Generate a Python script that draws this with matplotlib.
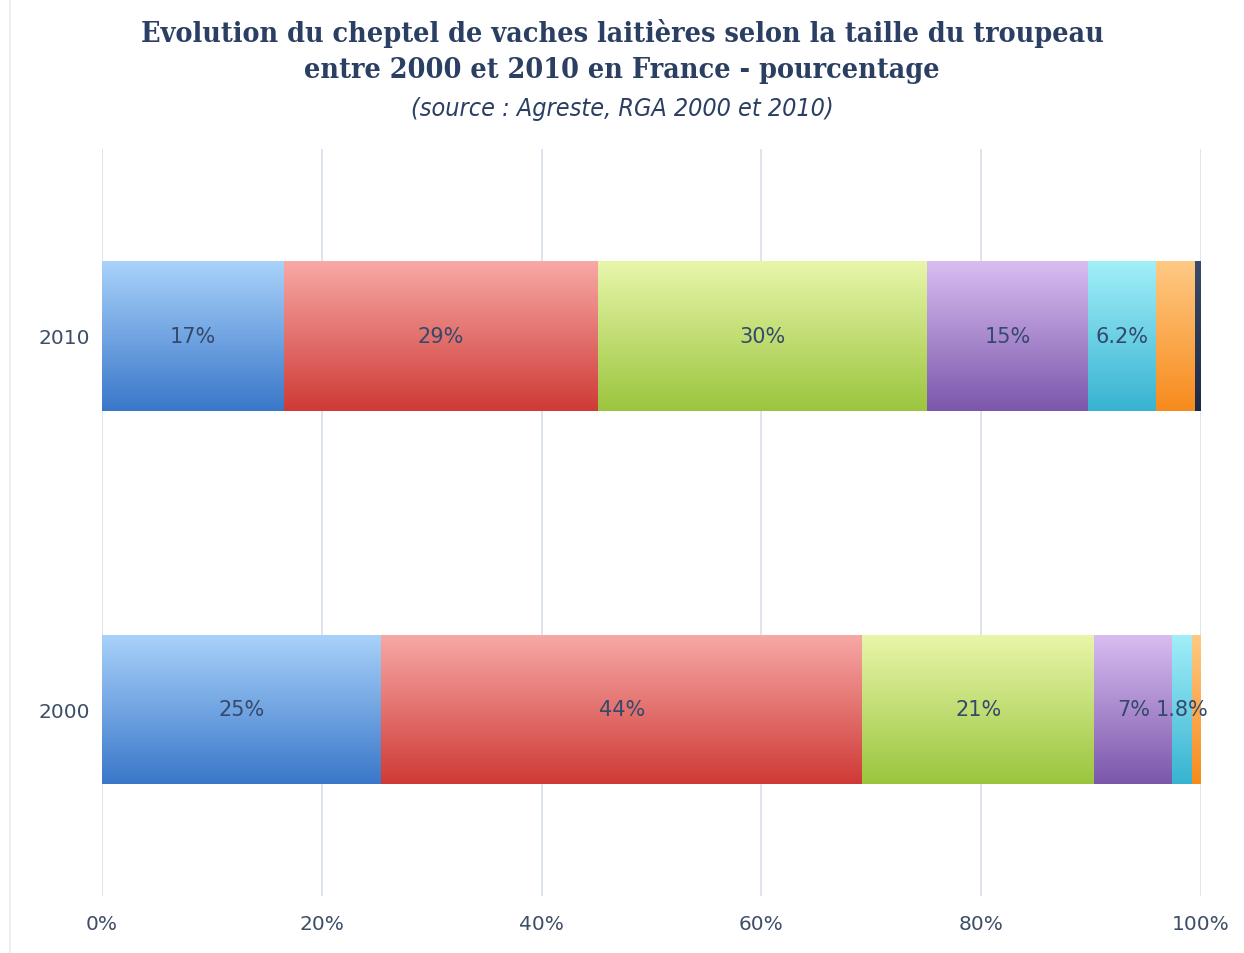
import matplotlib.pyplot as plt
import matplotlib.colors as mcolors
from matplotlib.lines import Line2D
import numpy as np

# données (pourcentages)
annees = ['2000', '2010']
parts_2000 = [25.4, 43.8, 21.1, 7.1, 1.8, 0.8, 0.0]
parts_2010 = [16.6, 28.5, 30.0, 14.6, 6.2, 3.6, 0.5]
etiquettes_2000 = ['25%', '44%', '21%', '7%', '1.8%', '', '']
etiquettes_2010 = ['17%', '29%', '30%', '15%', '6.2%', '', '']

# dégradés (haut clair -> bas foncé)
couleurs_haut = ['#a9d2fa', '#f7a9a6', '#e8f6aa', '#d9bdf1', '#a2eff9', '#ffc984', '#3a4a68']
couleurs_bas = ['#3a77c9', '#cf3a36', '#9bc53e', '#7b57ab', '#37b3d1', '#f78b1c', '#1c2a46']

fig = plt.figure(figsize=(12.44, 9.54), dpi=100)
ax = fig.add_axes([0.082, 0.0597, 0.8834, 0.783])

valeurs = np.array([parts_2000, parts_2010])
etiquettes = [etiquettes_2000, etiquettes_2010]
y = np.arange(len(annees))
gauche = np.zeros(len(annees))
hauteur = 0.4

for i in range(valeurs.shape[1]):
    barres = ax.barh(y, valeurs[:, i], left=gauche, height=hauteur,
                     color='none', edgecolor='none', zorder=2)
    cmap = mcolors.LinearSegmentedColormap.from_list(
        'g%d' % i, [couleurs_bas[i], couleurs_haut[i]])
    grad = np.linspace(0, 1, 256).reshape(-1, 1)
    for j, b in enumerate(barres):
        if valeurs[j, i] <= 0:
            continue
        x0, y0 = b.get_x(), b.get_y()
        w, h = b.get_width(), b.get_height()
        im = ax.imshow(grad, cmap=cmap, aspect='auto', origin='lower',
                       extent=[x0, x0 + w, y0, y0 + h], zorder=2)
        im.set_clip_path(b)
        txt = etiquettes[j][i]
        if txt:
            ax.text(x0 + w / 2, y[j], txt, ha='center', va='center',
                    fontsize=15, color='#34496b', zorder=3)
    gauche += valeurs[:, i]

ax.set_xlim(0, 100)
ax.set_ylim(-0.5, 1.5)
ax.set_yticks(y)
ax.set_yticklabels(annees)
ax.set_xticks(np.arange(0, 101, 20))
ax.set_xticklabels(['%d%%' % v for v in range(0, 101, 20)])
ax.tick_params(axis='both', length=0, labelsize=14.5, labelcolor='#3e4e68')
ax.tick_params(axis='x', pad=13)
ax.tick_params(axis='y', pad=9)
ax.grid(axis='x', color='#d8dfea', linewidth=1.2, zorder=0)
ax.set_axisbelow(True)
for s in ax.spines.values():
    s.set_visible(False)

# bordure très pâle à gauche de la zone de graphique
fig.add_artist(Line2D([0.008, 0.008], [0.0, 1.0], transform=fig.transFigure,
                      color='#eceff4', linewidth=1.5))

fig.text(0.5, 0.965, 'Evolution du cheptel de vaches laitières selon la taille du troupeau',
         ha='center', va='center', fontsize=20.5, fontweight='bold',
         family='DejaVu Serif', fontstretch='condensed', color='#2b3f63')
fig.text(0.5, 0.926, 'entre 2000 et 2010 en France - pourcentage',
         ha='center', va='center', fontsize=20.5, fontweight='bold',
         family='DejaVu Serif', fontstretch='condensed', color='#2b3f63')
fig.text(0.5, 0.886, '(source : Agreste, RGA 2000 et 2010)',
         ha='center', va='center', fontsize=18, style='italic',
         family='DejaVu Sans', fontstretch='condensed', color='#2b3f63')

plt.savefig('out.png', dpi=100)
